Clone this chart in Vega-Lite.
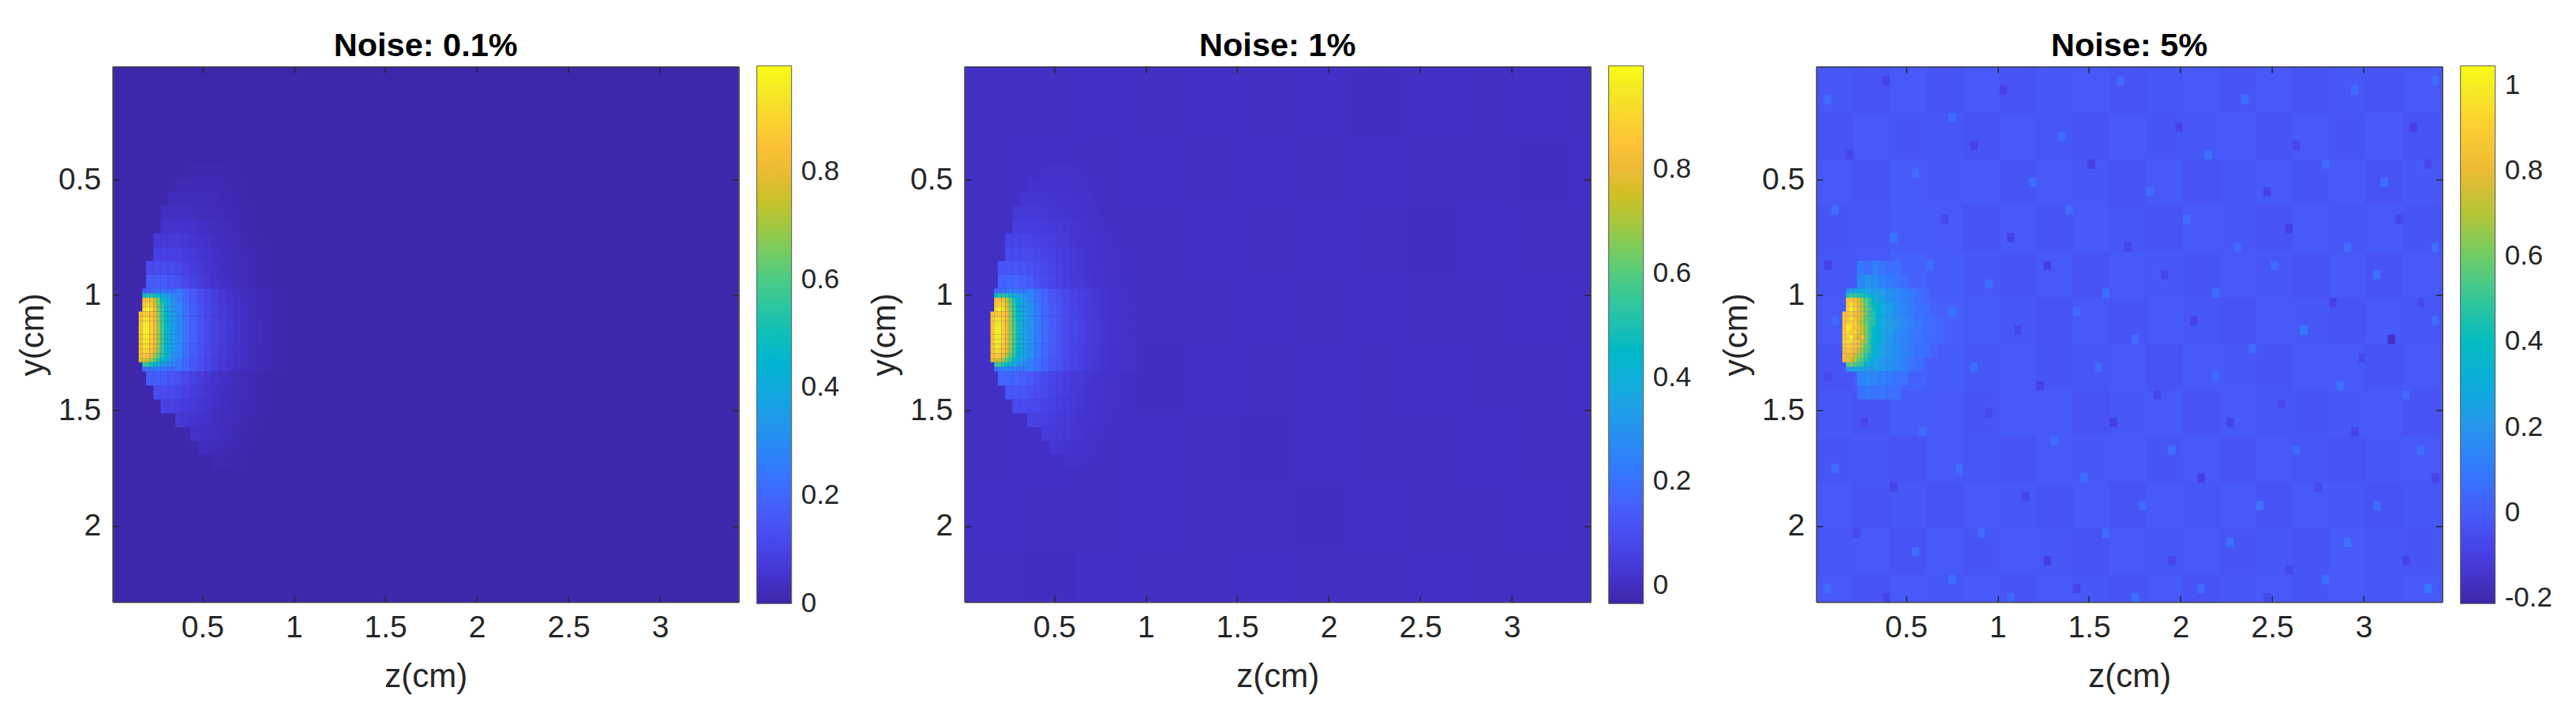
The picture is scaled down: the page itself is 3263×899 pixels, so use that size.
{"$schema":"https://vega.github.io/schema/vega-lite/v6.json","autosize":{"type":"none"},"padding":{"left":142.7,"top":84.3,"right":3120,"bottom":815},"background":"white","bounds":"flush","spacing":286,"config":{"view":{"stroke":null},"font":"Liberation Sans","axis":{"labelFont":"Liberation Sans","titleFont":"Liberation Sans","labelFontSize":39,"titleFontSize":42,"titleFontWeight":"normal","labelColor":"#262626","titleColor":"#262626","domainColor":"#404040","domainWidth":1.5,"tickColor":"#262626","tickWidth":1.5,"grid":false,"format":".1~f","labelFlush":false},"legend":{"labelFont":"Liberation Sans","labelFontSize":35,"labelColor":"#262626"},"title":{"font":"Liberation Sans","fontSize":41.5,"fontWeight":"bold","color":"#000000","anchor":"middle","offset":4}},"datasets":{"bg1":[{"z0":0.01,"z1":3.43,"y0":0.01,"y1":2.33,"v":0.004}],"bg2":[{"z0":0.01,"z1":3.43,"y0":0.01,"y1":2.33,"v":0.005}],"bg3":[{"z0":0.01,"z1":3.43,"y0":0.01,"y1":2.33,"v":-0.02}],
"spot":[{"z":0.18,"y":0.98,"v":0.17},{"z":0.2,"y":0.98,"v":0.19},{"z":0.22,"y":0.98,"v":0.2},{"z":0.24,"y":0.98,"v":0.22},{"z":0.26,"y":0.98,"v":0.23},{"z":0.28,"y":0.98,"v":0.23},{"z":0.3,"y":0.98,"v":0.22},{"z":0.32,"y":0.98,"v":0.22},{"z":0.34,"y":0.98,"v":0.21},
{"z":0.18,"y":1.0,"v":0.47},{"z":0.2,"y":1.0,"v":0.52},{"z":0.22,"y":1.0,"v":0.53},{"z":0.24,"y":1.0,"v":0.5},{"z":0.26,"y":1.0,"v":0.46},{"z":0.28,"y":1.0,"v":0.4},{"z":0.3,"y":1.0,"v":0.37},{"z":0.32,"y":1.0,"v":0.33},{"z":0.34,"y":1.0,"v":0.3},
{"z":0.18,"y":1.02,"v":0.83},{"z":0.2,"y":1.02,"v":0.84},{"z":0.22,"y":1.02,"v":0.81},{"z":0.24,"y":1.02,"v":0.72},{"z":0.26,"y":1.02,"v":0.6},{"z":0.28,"y":1.02,"v":0.49},{"z":0.3,"y":1.02,"v":0.42},{"z":0.32,"y":1.02,"v":0.37},{"z":0.34,"y":1.02,"v":0.33},
{"z":0.18,"y":1.04,"v":0.86},{"z":0.2,"y":1.04,"v":0.92},{"z":0.22,"y":1.04,"v":0.86},{"z":0.24,"y":1.04,"v":0.76},{"z":0.26,"y":1.04,"v":0.62},{"z":0.28,"y":1.04,"v":0.53},{"z":0.3,"y":1.04,"v":0.43},{"z":0.32,"y":1.04,"v":0.38},{"z":0.34,"y":1.04,"v":0.33},
{"z":0.18,"y":1.06,"v":0.93},{"z":0.2,"y":1.06,"v":0.98},{"z":0.22,"y":1.06,"v":0.93},{"z":0.24,"y":1.06,"v":0.8},{"z":0.26,"y":1.06,"v":0.64},{"z":0.28,"y":1.06,"v":0.55},{"z":0.3,"y":1.06,"v":0.45},{"z":0.32,"y":1.06,"v":0.38},{"z":0.34,"y":1.06,"v":0.34},
{"z":0.16,"y":1.08,"v":0.85},{"z":0.18,"y":1.08,"v":0.88},{"z":0.2,"y":1.08,"v":0.88},{"z":0.22,"y":1.08,"v":0.85},{"z":0.24,"y":1.08,"v":0.8},{"z":0.26,"y":1.08,"v":0.66},{"z":0.28,"y":1.08,"v":0.55},{"z":0.3,"y":1.08,"v":0.47},{"z":0.32,"y":1.08,"v":0.4},{"z":0.34,"y":1.08,"v":0.35},
{"z":0.16,"y":1.1,"v":0.85},{"z":0.18,"y":1.1,"v":0.93},{"z":0.2,"y":1.1,"v":0.93},{"z":0.22,"y":1.1,"v":0.87},{"z":0.24,"y":1.1,"v":0.8},{"z":0.26,"y":1.1,"v":0.67},{"z":0.28,"y":1.1,"v":0.56},{"z":0.3,"y":1.1,"v":0.47},{"z":0.32,"y":1.1,"v":0.4},{"z":0.34,"y":1.1,"v":0.35},
{"z":0.16,"y":1.12,"v":0.85},{"z":0.18,"y":1.12,"v":0.95},{"z":0.2,"y":1.12,"v":0.95},{"z":0.22,"y":1.12,"v":0.88},{"z":0.24,"y":1.12,"v":0.81},{"z":0.26,"y":1.12,"v":0.67},{"z":0.28,"y":1.12,"v":0.57},{"z":0.3,"y":1.12,"v":0.48},{"z":0.32,"y":1.12,"v":0.41},{"z":0.34,"y":1.12,"v":0.35},
{"z":0.16,"y":1.14,"v":0.85},{"z":0.18,"y":1.14,"v":0.96},{"z":0.2,"y":1.14,"v":0.96},{"z":0.22,"y":1.14,"v":0.88},{"z":0.24,"y":1.14,"v":0.81},{"z":0.26,"y":1.14,"v":0.68},{"z":0.28,"y":1.14,"v":0.57},{"z":0.3,"y":1.14,"v":0.48},{"z":0.32,"y":1.14,"v":0.41},{"z":0.34,"y":1.14,"v":0.36},
{"z":0.16,"y":1.16,"v":0.85},{"z":0.18,"y":1.16,"v":0.97},{"z":0.2,"y":1.16,"v":0.96},{"z":0.22,"y":1.16,"v":0.88},{"z":0.24,"y":1.16,"v":0.81},{"z":0.26,"y":1.16,"v":0.68},{"z":0.28,"y":1.16,"v":0.57},{"z":0.3,"y":1.16,"v":0.48},{"z":0.32,"y":1.16,"v":0.41},{"z":0.34,"y":1.16,"v":0.36},
{"z":0.16,"y":1.18,"v":0.85},{"z":0.18,"y":1.18,"v":0.97},{"z":0.2,"y":1.18,"v":0.96},{"z":0.22,"y":1.18,"v":0.88},{"z":0.24,"y":1.18,"v":0.81},{"z":0.26,"y":1.18,"v":0.68},{"z":0.28,"y":1.18,"v":0.57},{"z":0.3,"y":1.18,"v":0.48},{"z":0.32,"y":1.18,"v":0.41},{"z":0.34,"y":1.18,"v":0.36},
{"z":0.16,"y":1.2,"v":0.85},{"z":0.18,"y":1.2,"v":0.96},{"z":0.2,"y":1.2,"v":0.95},{"z":0.22,"y":1.2,"v":0.88},{"z":0.24,"y":1.2,"v":0.8},{"z":0.26,"y":1.2,"v":0.67},{"z":0.28,"y":1.2,"v":0.57},{"z":0.3,"y":1.2,"v":0.48},{"z":0.32,"y":1.2,"v":0.41},{"z":0.34,"y":1.2,"v":0.35},
{"z":0.16,"y":1.22,"v":0.85},{"z":0.18,"y":1.22,"v":0.95},{"z":0.2,"y":1.22,"v":0.94},{"z":0.22,"y":1.22,"v":0.87},{"z":0.24,"y":1.22,"v":0.79},{"z":0.26,"y":1.22,"v":0.67},{"z":0.28,"y":1.22,"v":0.56},{"z":0.3,"y":1.22,"v":0.47},{"z":0.32,"y":1.22,"v":0.4},{"z":0.34,"y":1.22,"v":0.35},
{"z":0.16,"y":1.24,"v":0.85},{"z":0.18,"y":1.24,"v":0.92},{"z":0.2,"y":1.24,"v":0.9},{"z":0.22,"y":1.24,"v":0.85},{"z":0.24,"y":1.24,"v":0.78},{"z":0.26,"y":1.24,"v":0.65},{"z":0.28,"y":1.24,"v":0.55},{"z":0.3,"y":1.24,"v":0.46},{"z":0.32,"y":1.24,"v":0.39},{"z":0.34,"y":1.24,"v":0.35},
{"z":0.16,"y":1.26,"v":0.83},{"z":0.18,"y":1.26,"v":0.87},{"z":0.2,"y":1.26,"v":0.85},{"z":0.22,"y":1.26,"v":0.8},{"z":0.24,"y":1.26,"v":0.7},{"z":0.26,"y":1.26,"v":0.6},{"z":0.28,"y":1.26,"v":0.52},{"z":0.3,"y":1.26,"v":0.44},{"z":0.32,"y":1.26,"v":0.38},{"z":0.34,"y":1.26,"v":0.33},
{"z":0.16,"y":1.28,"v":0.76},{"z":0.18,"y":1.28,"v":0.77},{"z":0.2,"y":1.28,"v":0.75},{"z":0.22,"y":1.28,"v":0.68},{"z":0.24,"y":1.28,"v":0.6},{"z":0.26,"y":1.28,"v":0.52},{"z":0.28,"y":1.28,"v":0.46},{"z":0.3,"y":1.28,"v":0.4},{"z":0.32,"y":1.28,"v":0.35},{"z":0.34,"y":1.28,"v":0.31},
{"z":0.18,"y":1.3,"v":0.55},{"z":0.2,"y":1.3,"v":0.56},{"z":0.22,"y":1.3,"v":0.5},{"z":0.24,"y":1.3,"v":0.46},{"z":0.26,"y":1.3,"v":0.4},{"z":0.28,"y":1.3,"v":0.36},{"z":0.3,"y":1.3,"v":0.33},{"z":0.32,"y":1.3,"v":0.3},{"z":0.34,"y":1.3,"v":0.27},
{"z":0.18,"y":1.32,"v":0.2},{"z":0.2,"y":1.32,"v":0.24},{"z":0.22,"y":1.32,"v":0.25},{"z":0.24,"y":1.32,"v":0.26},{"z":0.26,"y":1.32,"v":0.25},{"z":0.28,"y":1.32,"v":0.24},{"z":0.3,"y":1.32,"v":0.23},{"z":0.32,"y":1.32,"v":0.22},{"z":0.34,"y":1.32,"v":0.21}],
"glow":[{"z":0.45,"y":0.46,"v":0.012},{"z":0.49,"y":0.46,"v":0.012},{"z":0.53,"y":0.46,"v":0.012},{"z":0.57,"y":0.46,"v":0.012},{"z":0.61,"y":0.46,"v":0.011},{"z":0.65,"y":0.46,"v":0.009},
{"z":0.37,"y":0.52,"v":0.018},{"z":0.41,"y":0.52,"v":0.018},{"z":0.45,"y":0.52,"v":0.018},{"z":0.49,"y":0.52,"v":0.018},{"z":0.53,"y":0.52,"v":0.017},{"z":0.57,"y":0.52,"v":0.016},{"z":0.61,"y":0.52,"v":0.014},{"z":0.65,"y":0.52,"v":0.012},{"z":0.69,"y":0.52,"v":0.009},
{"z":0.33,"y":0.58,"v":0.026},{"z":0.37,"y":0.58,"v":0.026},{"z":0.41,"y":0.58,"v":0.026},{"z":0.45,"y":0.58,"v":0.026},{"z":0.49,"y":0.58,"v":0.024},{"z":0.53,"y":0.58,"v":0.022},{"z":0.57,"y":0.58,"v":0.02},{"z":0.61,"y":0.58,"v":0.017},{"z":0.65,"y":0.58,"v":0.014},{"z":0.69,"y":0.58,"v":0.011},
{"z":0.29,"y":0.64,"v":0.036},{"z":0.33,"y":0.64,"v":0.038},{"z":0.37,"y":0.64,"v":0.038},{"z":0.41,"y":0.64,"v":0.036},{"z":0.45,"y":0.64,"v":0.034},{"z":0.49,"y":0.64,"v":0.03},{"z":0.53,"y":0.64,"v":0.027},{"z":0.57,"y":0.64,"v":0.024},{"z":0.61,"y":0.64,"v":0.02},{"z":0.65,"y":0.64,"v":0.017},{"z":0.69,"y":0.64,"v":0.013},{"z":0.73,"y":0.64,"v":0.01},
{"z":0.29,"y":0.7,"v":0.05},{"z":0.33,"y":0.7,"v":0.052},{"z":0.37,"y":0.7,"v":0.052},{"z":0.41,"y":0.7,"v":0.05},{"z":0.45,"y":0.7,"v":0.046},{"z":0.49,"y":0.7,"v":0.04},{"z":0.53,"y":0.7,"v":0.035},{"z":0.57,"y":0.7,"v":0.03},{"z":0.61,"y":0.7,"v":0.026},{"z":0.65,"y":0.7,"v":0.021},{"z":0.69,"y":0.7,"v":0.017},{"z":0.73,"y":0.7,"v":0.013},{"z":0.77,"y":0.7,"v":0.009},
{"z":0.25,"y":0.76,"v":0.07},{"z":0.29,"y":0.76,"v":0.072},{"z":0.33,"y":0.76,"v":0.072},{"z":0.37,"y":0.76,"v":0.07},{"z":0.41,"y":0.76,"v":0.065},{"z":0.45,"y":0.76,"v":0.058},{"z":0.49,"y":0.76,"v":0.05},{"z":0.53,"y":0.76,"v":0.043},{"z":0.57,"y":0.76,"v":0.037},{"z":0.61,"y":0.76,"v":0.03},{"z":0.65,"y":0.76,"v":0.025},{"z":0.69,"y":0.76,"v":0.02},{"z":0.73,"y":0.76,"v":0.016},{"z":0.77,"y":0.76,"v":0.012},{"z":0.81,"y":0.76,"v":0.008},
{"z":0.25,"y":0.82,"v":0.09},{"z":0.29,"y":0.82,"v":0.095},{"z":0.33,"y":0.82,"v":0.093},{"z":0.37,"y":0.82,"v":0.088},{"z":0.41,"y":0.82,"v":0.08},{"z":0.45,"y":0.82,"v":0.07},{"z":0.49,"y":0.82,"v":0.06},{"z":0.53,"y":0.82,"v":0.05},{"z":0.57,"y":0.82,"v":0.042},{"z":0.61,"y":0.82,"v":0.034},{"z":0.65,"y":0.82,"v":0.028},{"z":0.69,"y":0.82,"v":0.022},{"z":0.73,"y":0.82,"v":0.018},{"z":0.77,"y":0.82,"v":0.014},{"z":0.81,"y":0.82,"v":0.01},{"z":0.85,"y":0.82,"v":0.008},
{"z":0.21,"y":0.88,"v":0.115},{"z":0.25,"y":0.88,"v":0.125},{"z":0.29,"y":0.88,"v":0.125},{"z":0.33,"y":0.88,"v":0.118},{"z":0.37,"y":0.88,"v":0.107},{"z":0.41,"y":0.88,"v":0.095},{"z":0.45,"y":0.88,"v":0.082},{"z":0.49,"y":0.88,"v":0.068},{"z":0.53,"y":0.88,"v":0.056},{"z":0.57,"y":0.88,"v":0.046},{"z":0.61,"y":0.88,"v":0.038},{"z":0.65,"y":0.88,"v":0.03},{"z":0.69,"y":0.88,"v":0.024},{"z":0.73,"y":0.88,"v":0.02},{"z":0.77,"y":0.88,"v":0.015},{"z":0.81,"y":0.88,"v":0.011},{"z":0.85,"y":0.88,"v":0.008},
{"z":0.21,"y":0.94,"v":0.16},{"z":0.25,"y":0.94,"v":0.17},{"z":0.29,"y":0.94,"v":0.165},{"z":0.33,"y":0.94,"v":0.15},{"z":0.37,"y":0.94,"v":0.13},{"z":0.41,"y":0.94,"v":0.11},{"z":0.45,"y":0.94,"v":0.093},{"z":0.49,"y":0.94,"v":0.076},{"z":0.53,"y":0.94,"v":0.062},{"z":0.57,"y":0.94,"v":0.05},{"z":0.61,"y":0.94,"v":0.041},{"z":0.65,"y":0.94,"v":0.033},{"z":0.69,"y":0.94,"v":0.026},{"z":0.73,"y":0.94,"v":0.021},{"z":0.77,"y":0.94,"v":0.016},{"z":0.81,"y":0.94,"v":0.012},{"z":0.85,"y":0.94,"v":0.009},
{"z":0.37,"y":1.0,"v":0.25},{"z":0.41,"y":1.0,"v":0.2},{"z":0.45,"y":1.0,"v":0.16},{"z":0.49,"y":1.0,"v":0.125},{"z":0.53,"y":1.0,"v":0.1},{"z":0.57,"y":1.0,"v":0.08},{"z":0.61,"y":1.0,"v":0.065},{"z":0.65,"y":1.0,"v":0.052},{"z":0.69,"y":1.0,"v":0.042},{"z":0.73,"y":1.0,"v":0.034},{"z":0.77,"y":1.0,"v":0.025},{"z":0.81,"y":1.0,"v":0.018},{"z":0.85,"y":1.0,"v":0.014},{"z":0.89,"y":1.0,"v":0.011},{"z":0.93,"y":1.0,"v":0.008},
{"z":0.37,"y":1.06,"v":0.29},{"z":0.41,"y":1.06,"v":0.22},{"z":0.45,"y":1.06,"v":0.17},{"z":0.49,"y":1.06,"v":0.135},{"z":0.53,"y":1.06,"v":0.11},{"z":0.57,"y":1.06,"v":0.09},{"z":0.61,"y":1.06,"v":0.07},{"z":0.65,"y":1.06,"v":0.056},{"z":0.69,"y":1.06,"v":0.045},{"z":0.73,"y":1.06,"v":0.036},{"z":0.77,"y":1.06,"v":0.027},{"z":0.81,"y":1.06,"v":0.019},{"z":0.85,"y":1.06,"v":0.015},{"z":0.89,"y":1.06,"v":0.012},{"z":0.93,"y":1.06,"v":0.009},
{"z":0.37,"y":1.12,"v":0.3},{"z":0.41,"y":1.12,"v":0.23},{"z":0.45,"y":1.12,"v":0.18},{"z":0.49,"y":1.12,"v":0.14},{"z":0.53,"y":1.12,"v":0.115},{"z":0.57,"y":1.12,"v":0.09},{"z":0.61,"y":1.12,"v":0.075},{"z":0.65,"y":1.12,"v":0.06},{"z":0.69,"y":1.12,"v":0.048},{"z":0.73,"y":1.12,"v":0.038},{"z":0.77,"y":1.12,"v":0.028},{"z":0.81,"y":1.12,"v":0.02},{"z":0.85,"y":1.12,"v":0.016},{"z":0.89,"y":1.12,"v":0.012},{"z":0.93,"y":1.12,"v":0.009},
{"z":0.37,"y":1.18,"v":0.3},{"z":0.41,"y":1.18,"v":0.23},{"z":0.45,"y":1.18,"v":0.18},{"z":0.49,"y":1.18,"v":0.14},{"z":0.53,"y":1.18,"v":0.115},{"z":0.57,"y":1.18,"v":0.09},{"z":0.61,"y":1.18,"v":0.075},{"z":0.65,"y":1.18,"v":0.06},{"z":0.69,"y":1.18,"v":0.048},{"z":0.73,"y":1.18,"v":0.038},{"z":0.77,"y":1.18,"v":0.028},{"z":0.81,"y":1.18,"v":0.02},{"z":0.85,"y":1.18,"v":0.016},{"z":0.89,"y":1.18,"v":0.012},{"z":0.93,"y":1.18,"v":0.009},
{"z":0.37,"y":1.24,"v":0.29},{"z":0.41,"y":1.24,"v":0.22},{"z":0.45,"y":1.24,"v":0.17},{"z":0.49,"y":1.24,"v":0.135},{"z":0.53,"y":1.24,"v":0.11},{"z":0.57,"y":1.24,"v":0.09},{"z":0.61,"y":1.24,"v":0.07},{"z":0.65,"y":1.24,"v":0.056},{"z":0.69,"y":1.24,"v":0.045},{"z":0.73,"y":1.24,"v":0.036},{"z":0.77,"y":1.24,"v":0.027},{"z":0.81,"y":1.24,"v":0.019},{"z":0.85,"y":1.24,"v":0.015},{"z":0.89,"y":1.24,"v":0.012},{"z":0.93,"y":1.24,"v":0.009},
{"z":0.37,"y":1.3,"v":0.24},{"z":0.41,"y":1.3,"v":0.195},{"z":0.45,"y":1.3,"v":0.155},{"z":0.49,"y":1.3,"v":0.125},{"z":0.53,"y":1.3,"v":0.1},{"z":0.57,"y":1.3,"v":0.08},{"z":0.61,"y":1.3,"v":0.065},{"z":0.65,"y":1.3,"v":0.052},{"z":0.69,"y":1.3,"v":0.042},{"z":0.73,"y":1.3,"v":0.034},{"z":0.77,"y":1.3,"v":0.025},{"z":0.81,"y":1.3,"v":0.018},{"z":0.85,"y":1.3,"v":0.014},{"z":0.89,"y":1.3,"v":0.011},{"z":0.93,"y":1.3,"v":0.008},
{"z":0.21,"y":1.36,"v":0.17},{"z":0.25,"y":1.36,"v":0.17},{"z":0.29,"y":1.36,"v":0.165},{"z":0.33,"y":1.36,"v":0.15},{"z":0.37,"y":1.36,"v":0.13},{"z":0.41,"y":1.36,"v":0.11},{"z":0.45,"y":1.36,"v":0.093},{"z":0.49,"y":1.36,"v":0.076},{"z":0.53,"y":1.36,"v":0.062},{"z":0.57,"y":1.36,"v":0.05},{"z":0.61,"y":1.36,"v":0.041},{"z":0.65,"y":1.36,"v":0.033},{"z":0.69,"y":1.36,"v":0.026},{"z":0.73,"y":1.36,"v":0.021},{"z":0.77,"y":1.36,"v":0.016},{"z":0.81,"y":1.36,"v":0.012},{"z":0.85,"y":1.36,"v":0.009},
{"z":0.25,"y":1.42,"v":0.125},{"z":0.29,"y":1.42,"v":0.125},{"z":0.33,"y":1.42,"v":0.118},{"z":0.37,"y":1.42,"v":0.107},{"z":0.41,"y":1.42,"v":0.095},{"z":0.45,"y":1.42,"v":0.082},{"z":0.49,"y":1.42,"v":0.068},{"z":0.53,"y":1.42,"v":0.056},{"z":0.57,"y":1.42,"v":0.046},{"z":0.61,"y":1.42,"v":0.038},{"z":0.65,"y":1.42,"v":0.03},{"z":0.69,"y":1.42,"v":0.024},{"z":0.73,"y":1.42,"v":0.02},{"z":0.77,"y":1.42,"v":0.015},{"z":0.81,"y":1.42,"v":0.011},{"z":0.85,"y":1.42,"v":0.008},
{"z":0.29,"y":1.48,"v":0.09},{"z":0.33,"y":1.48,"v":0.09},{"z":0.37,"y":1.48,"v":0.085},{"z":0.41,"y":1.48,"v":0.08},{"z":0.45,"y":1.48,"v":0.07},{"z":0.49,"y":1.48,"v":0.06},{"z":0.53,"y":1.48,"v":0.05},{"z":0.57,"y":1.48,"v":0.042},{"z":0.61,"y":1.48,"v":0.034},{"z":0.65,"y":1.48,"v":0.028},{"z":0.69,"y":1.48,"v":0.022},{"z":0.73,"y":1.48,"v":0.018},{"z":0.77,"y":1.48,"v":0.014},{"z":0.81,"y":1.48,"v":0.01},{"z":0.85,"y":1.48,"v":0.008},
{"z":0.37,"y":1.54,"v":0.065},{"z":0.41,"y":1.54,"v":0.062},{"z":0.45,"y":1.54,"v":0.056},{"z":0.49,"y":1.54,"v":0.05},{"z":0.53,"y":1.54,"v":0.043},{"z":0.57,"y":1.54,"v":0.037},{"z":0.61,"y":1.54,"v":0.03},{"z":0.65,"y":1.54,"v":0.025},{"z":0.69,"y":1.54,"v":0.02},{"z":0.73,"y":1.54,"v":0.016},{"z":0.77,"y":1.54,"v":0.012},{"z":0.81,"y":1.54,"v":0.008},
{"z":0.45,"y":1.6,"v":0.045},{"z":0.49,"y":1.6,"v":0.042},{"z":0.53,"y":1.6,"v":0.037},{"z":0.57,"y":1.6,"v":0.033},{"z":0.61,"y":1.6,"v":0.028},{"z":0.65,"y":1.6,"v":0.023},{"z":0.69,"y":1.6,"v":0.018},{"z":0.73,"y":1.6,"v":0.013},{"z":0.77,"y":1.6,"v":0.009},
{"z":0.49,"y":1.66,"v":0.028},{"z":0.53,"y":1.66,"v":0.026},{"z":0.57,"y":1.66,"v":0.023},{"z":0.61,"y":1.66,"v":0.019},{"z":0.65,"y":1.66,"v":0.015},{"z":0.69,"y":1.66,"v":0.012},{"z":0.73,"y":1.66,"v":0.009},
{"z":0.57,"y":1.72,"v":0.015},{"z":0.61,"y":1.72,"v":0.013},{"z":0.65,"y":1.72,"v":0.011},{"z":0.69,"y":1.72,"v":0.009}],
"n2":[{"z":0.16,"y":0.16,"v":0.006},{"z":0.46,"y":0.16,"v":0.003},{"z":0.76,"y":0.16,"v":0.008},{"z":1.06,"y":0.16,"v":0.004},{"z":1.36,"y":0.16,"v":0.009},{"z":1.66,"y":0.16,"v":0.003},{"z":1.96,"y":0.16,"v":0.007},{"z":2.26,"y":0.16,"v":0.002},{"z":2.56,"y":0.16,"v":0.007},{"z":2.86,"y":0.16,"v":0.004},{"z":3.16,"y":0.16,"v":0.008},{"z":3.46,"y":0.16,"v":0.005},
{"z":0.16,"y":0.46,"v":0.003},{"z":0.46,"y":0.46,"v":0.007},{"z":0.76,"y":0.46,"v":0.004},{"z":1.06,"y":0.46,"v":0.008},{"z":1.36,"y":0.46,"v":0.003},{"z":1.66,"y":0.46,"v":0.007},{"z":1.96,"y":0.46,"v":0.004},{"z":2.26,"y":0.46,"v":0.009},{"z":2.56,"y":0.46,"v":0.003},{"z":2.86,"y":0.46,"v":0.006},{"z":3.16,"y":0.46,"v":0.002},{"z":3.46,"y":0.46,"v":0.007},
{"z":0.16,"y":0.76,"v":0.004},{"z":0.46,"y":0.76,"v":0.008},{"z":0.76,"y":0.76,"v":0.006},{"z":1.06,"y":0.76,"v":0.003},{"z":1.36,"y":0.76,"v":0.007},{"z":1.66,"y":0.76,"v":0.003},{"z":1.96,"y":0.76,"v":0.008},{"z":2.26,"y":0.76,"v":0.005},{"z":2.56,"y":0.76,"v":0.002},{"z":2.86,"y":0.76,"v":0.007},{"z":3.16,"y":0.76,"v":0.004},{"z":3.46,"y":0.76,"v":0.006},
{"z":0.16,"y":1.06,"v":0.003},{"z":0.46,"y":1.06,"v":0.006},{"z":0.76,"y":1.06,"v":0.009},{"z":1.06,"y":1.06,"v":0.005},{"z":1.36,"y":1.06,"v":0.004},{"z":1.66,"y":1.06,"v":0.008},{"z":1.96,"y":1.06,"v":0.003},{"z":2.26,"y":1.06,"v":0.007},{"z":2.56,"y":1.06,"v":0.006},{"z":2.86,"y":1.06,"v":0.003},{"z":3.16,"y":1.06,"v":0.008},{"z":3.46,"y":1.06,"v":0.004},
{"z":0.16,"y":1.36,"v":0.006},{"z":0.46,"y":1.36,"v":0.004},{"z":0.76,"y":1.36,"v":0.007},{"z":1.06,"y":1.36,"v":0.002},{"z":1.36,"y":1.36,"v":0.008},{"z":1.66,"y":1.36,"v":0.005},{"z":1.96,"y":1.36,"v":0.007},{"z":2.26,"y":1.36,"v":0.003},{"z":2.56,"y":1.36,"v":0.008},{"z":2.86,"y":1.36,"v":0.006},{"z":3.16,"y":1.36,"v":0.003},{"z":3.46,"y":1.36,"v":0.007},
{"z":0.16,"y":1.66,"v":0.004},{"z":0.46,"y":1.66,"v":0.007},{"z":0.76,"y":1.66,"v":0.003},{"z":1.06,"y":1.66,"v":0.007},{"z":1.36,"y":1.66,"v":0.005},{"z":1.66,"y":1.66,"v":0.002},{"z":1.96,"y":1.66,"v":0.008},{"z":2.26,"y":1.66,"v":0.004},{"z":2.56,"y":1.66,"v":0.006},{"z":2.86,"y":1.66,"v":0.008},{"z":3.16,"y":1.66,"v":0.004},{"z":3.46,"y":1.66,"v":0.003},
{"z":0.16,"y":1.96,"v":0.007},{"z":0.46,"y":1.96,"v":0.004},{"z":0.76,"y":1.96,"v":0.006},{"z":1.06,"y":1.96,"v":0.008},{"z":1.36,"y":1.96,"v":0.003},{"z":1.66,"y":1.96,"v":0.006},{"z":1.96,"y":1.96,"v":0.002},{"z":2.26,"y":1.96,"v":0.007},{"z":2.56,"y":1.96,"v":0.004},{"z":2.86,"y":1.96,"v":0.003},{"z":3.16,"y":1.96,"v":0.007},{"z":3.46,"y":1.96,"v":0.006},
{"z":0.16,"y":2.26,"v":0.005},{"z":0.46,"y":2.26,"v":0.002},{"z":0.76,"y":2.26,"v":0.008},{"z":1.06,"y":2.26,"v":0.004},{"z":1.36,"y":2.26,"v":0.006},{"z":1.66,"y":2.26,"v":0.009},{"z":1.96,"y":2.26,"v":0.005},{"z":2.26,"y":2.26,"v":0.003},{"z":2.56,"y":2.26,"v":0.007},{"z":2.86,"y":2.26,"v":0.004},{"z":3.16,"y":2.26,"v":0.006},{"z":3.46,"y":2.26,"v":0.003}],
"n3":[{"z":0.11,"y":0.11,"v":-0.015},{"z":0.31,"y":0.11,"v":-0.03},{"z":0.51,"y":0.11,"v":-0.01},{"z":0.71,"y":0.11,"v":-0.025},{"z":0.91,"y":0.11,"v":-0.01},{"z":1.11,"y":0.11,"v":-0.03},{"z":1.31,"y":0.11,"v":-0.015},{"z":1.51,"y":0.11,"v":-0.01},{"z":1.71,"y":0.11,"v":-0.03},{"z":1.91,"y":0.11,"v":-0.02},{"z":2.11,"y":0.11,"v":-0.01},{"z":2.31,"y":0.11,"v":-0.025},{"z":2.51,"y":0.11,"v":-0.01},{"z":2.71,"y":0.11,"v":-0.03},{"z":2.91,"y":0.11,"v":-0.015},{"z":3.11,"y":0.11,"v":-0.025},{"z":3.31,"y":0.11,"v":-0.01},{"z":3.51,"y":0.11,"v":-0.02},
{"z":0.11,"y":0.31,"v":-0.03},{"z":0.31,"y":0.31,"v":-0.01},{"z":0.51,"y":0.31,"v":-0.025},{"z":0.71,"y":0.31,"v":-0.015},{"z":0.91,"y":0.31,"v":-0.03},{"z":1.11,"y":0.31,"v":-0.01},{"z":1.31,"y":0.31,"v":-0.02},{"z":1.51,"y":0.31,"v":-0.03},{"z":1.71,"y":0.31,"v":-0.01},{"z":1.91,"y":0.31,"v":-0.025},{"z":2.11,"y":0.31,"v":-0.015},{"z":2.31,"y":0.31,"v":-0.01},{"z":2.51,"y":0.31,"v":-0.03},{"z":2.71,"y":0.31,"v":-0.01},{"z":2.91,"y":0.31,"v":-0.025},{"z":3.11,"y":0.31,"v":-0.01},{"z":3.31,"y":0.31,"v":-0.03},{"z":3.51,"y":0.31,"v":-0.015},
{"z":0.11,"y":0.51,"v":-0.01},{"z":0.31,"y":0.51,"v":-0.025},{"z":0.51,"y":0.51,"v":-0.005},{"z":0.71,"y":0.51,"v":-0.015},{"z":0.91,"y":0.51,"v":-0.01},{"z":1.11,"y":0.51,"v":-0.025},{"z":1.31,"y":0.51,"v":-0.01},{"z":1.51,"y":0.51,"v":-0.015},{"z":1.71,"y":0.51,"v":-0.03},{"z":1.91,"y":0.51,"v":-0.01},{"z":2.11,"y":0.51,"v":-0.03},{"z":2.31,"y":0.51,"v":-0.02},{"z":2.51,"y":0.51,"v":-0.01},{"z":2.71,"y":0.51,"v":-0.025},{"z":2.91,"y":0.51,"v":-0.01},{"z":3.11,"y":0.51,"v":-0.03},{"z":3.31,"y":0.51,"v":-0.015},{"z":3.51,"y":0.51,"v":-0.01},
{"z":0.11,"y":0.71,"v":-0.025},{"z":0.31,"y":0.71,"v":-0.015},{"z":0.51,"y":0.71,"v":0.0},{"z":0.71,"y":0.71,"v":-0.01},{"z":0.91,"y":0.71,"v":-0.03},{"z":1.11,"y":0.71,"v":-0.01},{"z":1.31,"y":0.71,"v":-0.025},{"z":1.51,"y":0.71,"v":-0.01},{"z":1.71,"y":0.71,"v":-0.02},{"z":1.91,"y":0.71,"v":-0.03},{"z":2.11,"y":0.71,"v":-0.01},{"z":2.31,"y":0.71,"v":-0.015},{"z":2.51,"y":0.71,"v":-0.03},{"z":2.71,"y":0.71,"v":-0.01},{"z":2.91,"y":0.71,"v":-0.02},{"z":3.11,"y":0.71,"v":-0.01},{"z":3.31,"y":0.71,"v":-0.025},{"z":3.51,"y":0.71,"v":-0.03},
{"z":0.11,"y":0.91,"v":-0.02},{"z":0.31,"y":0.91,"v":-0.01},{"z":0.51,"y":0.91,"v":0.02},{"z":0.71,"y":0.91,"v":0.0},{"z":0.91,"y":0.91,"v":-0.015},{"z":1.11,"y":0.91,"v":-0.025},{"z":1.31,"y":0.91,"v":-0.01},{"z":1.51,"y":0.91,"v":-0.03},{"z":1.71,"y":0.91,"v":-0.01},{"z":1.91,"y":0.91,"v":-0.015},{"z":2.11,"y":0.91,"v":-0.025},{"z":2.31,"y":0.91,"v":-0.01},{"z":2.51,"y":0.91,"v":-0.02},{"z":2.71,"y":0.91,"v":-0.03},{"z":2.91,"y":0.91,"v":-0.01},{"z":3.11,"y":0.91,"v":-0.03},{"z":3.31,"y":0.91,"v":-0.01},{"z":3.51,"y":0.91,"v":-0.015},
{"z":0.11,"y":1.11,"v":-0.01},{"z":0.31,"y":1.11,"v":-0.005},{"z":0.51,"y":1.11,"v":0.03},{"z":0.71,"y":1.11,"v":0.01},{"z":0.91,"y":1.11,"v":-0.005},{"z":1.11,"y":1.11,"v":-0.015},{"z":1.31,"y":1.11,"v":-0.03},{"z":1.51,"y":1.11,"v":-0.01},{"z":1.71,"y":1.11,"v":-0.025},{"z":1.91,"y":1.11,"v":-0.01},{"z":2.11,"y":1.11,"v":-0.02},{"z":2.31,"y":1.11,"v":-0.03},{"z":2.51,"y":1.11,"v":-0.01},{"z":2.71,"y":1.11,"v":-0.015},{"z":2.91,"y":1.11,"v":-0.03},{"z":3.11,"y":1.11,"v":-0.01},{"z":3.31,"y":1.11,"v":-0.02},{"z":3.51,"y":1.11,"v":-0.025},
{"z":0.11,"y":1.31,"v":-0.03},{"z":0.31,"y":1.31,"v":-0.01},{"z":0.51,"y":1.31,"v":0.02},{"z":0.71,"y":1.31,"v":0.0},{"z":0.91,"y":1.31,"v":-0.015},{"z":1.11,"y":1.31,"v":-0.01},{"z":1.31,"y":1.31,"v":-0.025},{"z":1.51,"y":1.31,"v":-0.02},{"z":1.71,"y":1.31,"v":-0.01},{"z":1.91,"y":1.31,"v":-0.03},{"z":2.11,"y":1.31,"v":-0.01},{"z":2.31,"y":1.31,"v":-0.015},{"z":2.51,"y":1.31,"v":-0.025},{"z":2.71,"y":1.31,"v":-0.01},{"z":2.91,"y":1.31,"v":-0.01},{"z":3.11,"y":1.31,"v":-0.025},{"z":3.31,"y":1.31,"v":-0.01},{"z":3.51,"y":1.31,"v":-0.02},
{"z":0.11,"y":1.51,"v":-0.015},{"z":0.31,"y":1.51,"v":-0.03},{"z":0.51,"y":1.51,"v":0.0},{"z":0.71,"y":1.51,"v":-0.01},{"z":0.91,"y":1.51,"v":-0.025},{"z":1.11,"y":1.51,"v":-0.01},{"z":1.31,"y":1.51,"v":-0.01},{"z":1.51,"y":1.51,"v":-0.03},{"z":1.71,"y":1.51,"v":-0.015},{"z":1.91,"y":1.51,"v":-0.01},{"z":2.11,"y":1.51,"v":-0.03},{"z":2.31,"y":1.51,"v":-0.01},{"z":2.51,"y":1.51,"v":-0.02},{"z":2.71,"y":1.51,"v":-0.025},{"z":2.91,"y":1.51,"v":-0.015},{"z":3.11,"y":1.51,"v":-0.01},{"z":3.31,"y":1.51,"v":-0.03},{"z":3.51,"y":1.51,"v":-0.01},
{"z":0.11,"y":1.71,"v":-0.025},{"z":0.31,"y":1.71,"v":-0.015},{"z":0.51,"y":1.71,"v":-0.03},{"z":0.71,"y":1.71,"v":-0.01},{"z":0.91,"y":1.71,"v":-0.02},{"z":1.11,"y":1.71,"v":-0.03},{"z":1.31,"y":1.71,"v":-0.01},{"z":1.51,"y":1.71,"v":-0.015},{"z":1.71,"y":1.71,"v":-0.01},{"z":1.91,"y":1.71,"v":-0.025},{"z":2.11,"y":1.71,"v":-0.01},{"z":2.31,"y":1.71,"v":-0.03},{"z":2.51,"y":1.71,"v":-0.01},{"z":2.71,"y":1.71,"v":-0.02},{"z":2.91,"y":1.71,"v":-0.03},{"z":3.11,"y":1.71,"v":-0.015},{"z":3.31,"y":1.71,"v":-0.01},{"z":3.51,"y":1.71,"v":-0.025},
{"z":0.11,"y":1.91,"v":-0.01},{"z":0.31,"y":1.91,"v":-0.025},{"z":0.51,"y":1.91,"v":-0.015},{"z":0.71,"y":1.91,"v":-0.03},{"z":0.91,"y":1.91,"v":-0.01},{"z":1.11,"y":1.91,"v":-0.015},{"z":1.31,"y":1.91,"v":-0.025},{"z":1.51,"y":1.91,"v":-0.01},{"z":1.71,"y":1.91,"v":-0.03},{"z":1.91,"y":1.91,"v":-0.01},{"z":2.11,"y":1.91,"v":-0.02},{"z":2.31,"y":1.91,"v":-0.01},{"z":2.51,"y":1.91,"v":-0.03},{"z":2.71,"y":1.91,"v":-0.01},{"z":2.91,"y":1.91,"v":-0.015},{"z":3.11,"y":1.91,"v":-0.03},{"z":3.31,"y":1.91,"v":-0.02},{"z":3.51,"y":1.91,"v":-0.01},
{"z":0.11,"y":2.11,"v":-0.02},{"z":0.31,"y":2.11,"v":-0.01},{"z":0.51,"y":2.11,"v":-0.03},{"z":0.71,"y":2.11,"v":-0.01},{"z":0.91,"y":2.11,"v":-0.025},{"z":1.11,"y":2.11,"v":-0.01},{"z":1.31,"y":2.11,"v":-0.015},{"z":1.51,"y":2.11,"v":-0.03},{"z":1.71,"y":2.11,"v":-0.01},{"z":1.91,"y":2.11,"v":-0.02},{"z":2.11,"y":2.11,"v":-0.01},{"z":2.31,"y":2.11,"v":-0.025},{"z":2.51,"y":2.11,"v":-0.015},{"z":2.71,"y":2.11,"v":-0.03},{"z":2.91,"y":2.11,"v":-0.01},{"z":3.11,"y":2.11,"v":-0.02},{"z":3.31,"y":2.11,"v":-0.025},{"z":3.51,"y":2.11,"v":-0.01},
{"z":0.11,"y":2.31,"v":-0.01},{"z":0.31,"y":2.31,"v":-0.025},{"z":0.51,"y":2.31,"v":-0.01},{"z":0.71,"y":2.31,"v":-0.02},{"z":0.91,"y":2.31,"v":-0.01},{"z":1.11,"y":2.31,"v":-0.03},{"z":1.31,"y":2.31,"v":-0.01},{"z":1.51,"y":2.31,"v":-0.015},{"z":1.71,"y":2.31,"v":-0.025},{"z":1.91,"y":2.31,"v":-0.01},{"z":2.11,"y":2.31,"v":-0.03},{"z":2.31,"y":2.31,"v":-0.015},{"z":2.51,"y":2.31,"v":-0.01},{"z":2.71,"y":2.31,"v":-0.025},{"z":2.91,"y":2.31,"v":-0.01},{"z":3.11,"y":2.31,"v":-0.02},{"z":3.31,"y":2.31,"v":-0.01},{"z":3.51,"y":2.31,"v":-0.01}],
"s3":[{"z":0.07,"y":0.15,"v":0.05},{"z":0.39,"y":0.07,"v":-0.09},{"z":0.75,"y":0.23,"v":0.06},{"z":1.03,"y":0.11,"v":-0.1},{"z":1.35,"y":0.31,"v":0.07},{"z":1.67,"y":0.07,"v":0.05},{"z":1.99,"y":0.27,"v":-0.09},{"z":2.35,"y":0.15,"v":0.06},{"z":2.63,"y":0.35,"v":-0.08},{"z":2.95,"y":0.11,"v":0.07},{"z":3.27,"y":0.27,"v":-0.1},{"z":3.39,"y":0.07,"v":0.05},
{"z":0.19,"y":0.39,"v":-0.08},{"z":0.55,"y":0.47,"v":0.06},{"z":0.87,"y":0.35,"v":-0.09},{"z":1.19,"y":0.51,"v":0.07},{"z":1.51,"y":0.43,"v":-0.1},{"z":1.83,"y":0.55,"v":0.06},{"z":2.15,"y":0.39,"v":0.08},{"z":2.47,"y":0.55,"v":-0.09},{"z":2.79,"y":0.43,"v":0.05},{"z":3.11,"y":0.51,"v":0.07},{"z":3.35,"y":0.43,"v":-0.08},
{"z":0.11,"y":0.63,"v":0.05},{"z":0.43,"y":0.75,"v":0.09},{"z":0.71,"y":0.67,"v":-0.07},{"z":1.07,"y":0.75,"v":-0.09},{"z":1.39,"y":0.63,"v":0.06},{"z":1.71,"y":0.79,"v":-0.08},{"z":2.03,"y":0.67,"v":0.07},{"z":2.31,"y":0.79,"v":0.05},{"z":2.59,"y":0.71,"v":-0.1},{"z":2.91,"y":0.79,"v":0.06},{"z":3.19,"y":0.67,"v":-0.07},{"z":3.39,"y":0.79,"v":0.07},
{"z":0.07,"y":0.87,"v":-0.09},{"z":0.63,"y":0.87,"v":0.07},{"z":0.95,"y":0.95,"v":0.06},{"z":1.27,"y":0.87,"v":-0.1},{"z":1.59,"y":0.99,"v":0.07},{"z":1.91,"y":0.91,"v":-0.08},{"z":2.19,"y":0.99,"v":0.06},{"z":2.51,"y":0.87,"v":0.05},{"z":2.83,"y":1.03,"v":-0.09},{"z":3.07,"y":0.91,"v":0.08},{"z":3.31,"y":1.03,"v":-0.07},
{"z":0.11,"y":1.11,"v":0.04},{"z":0.75,"y":1.07,"v":0.09},{"z":1.11,"y":1.15,"v":-0.08},{"z":1.43,"y":1.07,"v":0.06},{"z":1.75,"y":1.19,"v":0.05},{"z":2.07,"y":1.11,"v":-0.09},{"z":2.39,"y":1.23,"v":0.07},{"z":2.67,"y":1.15,"v":0.1},{"z":2.99,"y":1.27,"v":-0.07},{"z":3.15,"y":1.19,"v":-0.16},{"z":3.39,"y":1.11,"v":0.06},
{"z":0.07,"y":1.35,"v":-0.07},{"z":0.87,"y":1.31,"v":0.07},{"z":1.23,"y":1.39,"v":-0.09},{"z":1.55,"y":1.31,"v":0.05},{"z":1.87,"y":1.43,"v":-0.08},{"z":2.19,"y":1.35,"v":0.06},{"z":2.55,"y":1.47,"v":-0.07},{"z":2.87,"y":1.39,"v":0.08},{"z":3.23,"y":1.43,"v":0.05},
{"z":0.27,"y":1.55,"v":-0.08},{"z":0.59,"y":1.59,"v":0.07},{"z":0.95,"y":1.51,"v":-0.07},{"z":1.31,"y":1.63,"v":0.06},{"z":1.63,"y":1.55,"v":-0.1},{"z":1.95,"y":1.67,"v":0.07},{"z":2.27,"y":1.55,"v":-0.08},{"z":2.63,"y":1.67,"v":0.05},{"z":2.95,"y":1.59,"v":-0.09},{"z":3.31,"y":1.67,"v":0.07},
{"z":0.11,"y":1.75,"v":0.06},{"z":0.43,"y":1.83,"v":-0.09},{"z":0.79,"y":1.75,"v":0.06},{"z":1.15,"y":1.87,"v":-0.08},{"z":1.47,"y":1.79,"v":0.07},{"z":1.79,"y":1.91,"v":0.05},{"z":2.11,"y":1.79,"v":-0.1},{"z":2.43,"y":1.91,"v":0.08},{"z":2.75,"y":1.83,"v":-0.07},{"z":3.07,"y":1.91,"v":0.06},{"z":3.39,"y":1.79,"v":-0.09},
{"z":0.23,"y":2.03,"v":-0.07},{"z":0.55,"y":2.11,"v":0.07},{"z":0.91,"y":2.03,"v":0.05},{"z":1.27,"y":2.15,"v":-0.1},{"z":1.59,"y":2.03,"v":0.06},{"z":1.95,"y":2.15,"v":-0.08},{"z":2.27,"y":2.07,"v":0.07},{"z":2.59,"y":2.19,"v":-0.07},{"z":2.91,"y":2.07,"v":0.08},{"z":3.23,"y":2.15,"v":-0.09},
{"z":0.07,"y":2.27,"v":0.06},{"z":0.39,"y":2.31,"v":-0.08},{"z":0.75,"y":2.23,"v":0.07},{"z":1.07,"y":2.31,"v":0.05},{"z":1.43,"y":2.27,"v":-0.09},{"z":1.75,"y":2.31,"v":0.07},{"z":2.11,"y":2.27,"v":0.05},{"z":2.47,"y":2.31,"v":-0.07},{"z":2.79,"y":2.23,"v":0.06},{"z":3.35,"y":2.27,"v":0.09}],
"spot3":[{"z":0.18,"y":0.98,"v":0.2},{"z":0.2,"y":0.98,"v":0.24},{"z":0.22,"y":0.98,"v":0.28},{"z":0.24,"y":0.98,"v":0.3},{"z":0.26,"y":0.98,"v":0.3},{"z":0.28,"y":0.98,"v":0.32},{"z":0.3,"y":0.98,"v":0.26},{"z":0.32,"y":0.98,"v":0.22},
{"z":0.18,"y":1.0,"v":0.46},{"z":0.2,"y":1.0,"v":0.52},{"z":0.22,"y":1.0,"v":0.5},{"z":0.24,"y":1.0,"v":0.47},{"z":0.26,"y":1.0,"v":0.44},{"z":0.28,"y":1.0,"v":0.43},{"z":0.3,"y":1.0,"v":0.38},{"z":0.32,"y":1.0,"v":0.3},
{"z":0.18,"y":1.02,"v":0.84},{"z":0.2,"y":1.02,"v":0.86},{"z":0.22,"y":1.02,"v":0.84},{"z":0.24,"y":1.02,"v":0.78},{"z":0.26,"y":1.02,"v":0.62},{"z":0.28,"y":1.02,"v":0.55},{"z":0.3,"y":1.02,"v":0.5},{"z":0.32,"y":1.02,"v":0.36},
{"z":0.18,"y":1.04,"v":0.88},{"z":0.2,"y":1.04,"v":0.96},{"z":0.22,"y":1.04,"v":0.86},{"z":0.24,"y":1.04,"v":0.8},{"z":0.26,"y":1.04,"v":0.66},{"z":0.28,"y":1.04,"v":0.6},{"z":0.3,"y":1.04,"v":0.47},{"z":0.32,"y":1.04,"v":0.4},
{"z":0.18,"y":1.06,"v":0.9},{"z":0.2,"y":1.06,"v":1.02},{"z":0.22,"y":1.06,"v":0.92},{"z":0.24,"y":1.06,"v":0.8},{"z":0.26,"y":1.06,"v":0.7},{"z":0.28,"y":1.06,"v":0.58},{"z":0.3,"y":1.06,"v":0.55},{"z":0.32,"y":1.06,"v":0.42},
{"z":0.16,"y":1.08,"v":0.83},{"z":0.18,"y":1.08,"v":0.88},{"z":0.2,"y":1.08,"v":0.9},{"z":0.22,"y":1.08,"v":0.84},{"z":0.24,"y":1.08,"v":0.82},{"z":0.26,"y":1.08,"v":0.72},{"z":0.28,"y":1.08,"v":0.6},{"z":0.3,"y":1.08,"v":0.5},{"z":0.32,"y":1.08,"v":0.46},
{"z":0.16,"y":1.1,"v":0.88},{"z":0.18,"y":1.1,"v":0.9},{"z":0.2,"y":1.1,"v":0.98},{"z":0.22,"y":1.1,"v":0.88},{"z":0.24,"y":1.1,"v":0.8},{"z":0.26,"y":1.1,"v":0.7},{"z":0.28,"y":1.1,"v":0.58},{"z":0.3,"y":1.1,"v":0.52},{"z":0.32,"y":1.1,"v":0.46},
{"z":0.16,"y":1.12,"v":0.86},{"z":0.18,"y":1.12,"v":0.94},{"z":0.2,"y":1.12,"v":0.92},{"z":0.22,"y":1.12,"v":0.9},{"z":0.24,"y":1.12,"v":0.76},{"z":0.26,"y":1.12,"v":0.66},{"z":0.28,"y":1.12,"v":0.6},{"z":0.3,"y":1.12,"v":0.5},{"z":0.32,"y":1.12,"v":0.48},
{"z":0.16,"y":1.14,"v":0.84},{"z":0.18,"y":1.14,"v":1.02},{"z":0.2,"y":1.14,"v":0.94},{"z":0.22,"y":1.14,"v":0.86},{"z":0.24,"y":1.14,"v":0.82},{"z":0.26,"y":1.14,"v":0.72},{"z":0.28,"y":1.14,"v":0.64},{"z":0.3,"y":1.14,"v":0.48},{"z":0.32,"y":1.14,"v":0.4},
{"z":0.16,"y":1.16,"v":0.88},{"z":0.18,"y":1.16,"v":0.96},{"z":0.2,"y":1.16,"v":0.9},{"z":0.22,"y":1.16,"v":0.92},{"z":0.24,"y":1.16,"v":0.78},{"z":0.26,"y":1.16,"v":0.7},{"z":0.28,"y":1.16,"v":0.62},{"z":0.3,"y":1.16,"v":0.5},{"z":0.32,"y":1.16,"v":0.38},
{"z":0.16,"y":1.18,"v":0.86},{"z":0.18,"y":1.18,"v":0.92},{"z":0.2,"y":1.18,"v":1.03},{"z":0.22,"y":1.18,"v":0.84},{"z":0.24,"y":1.18,"v":0.74},{"z":0.26,"y":1.18,"v":0.84},{"z":0.28,"y":1.18,"v":0.62},{"z":0.3,"y":1.18,"v":0.52},{"z":0.32,"y":1.18,"v":0.38},
{"z":0.16,"y":1.2,"v":0.92},{"z":0.18,"y":1.2,"v":0.96},{"z":0.2,"y":1.2,"v":0.94},{"z":0.22,"y":1.2,"v":0.88},{"z":0.24,"y":1.2,"v":0.84},{"z":0.26,"y":1.2,"v":0.7},{"z":0.28,"y":1.2,"v":0.64},{"z":0.3,"y":1.2,"v":0.48},{"z":0.32,"y":1.2,"v":0.36},
{"z":0.16,"y":1.22,"v":0.86},{"z":0.18,"y":1.22,"v":0.92},{"z":0.2,"y":1.22,"v":0.9},{"z":0.22,"y":1.22,"v":0.86},{"z":0.24,"y":1.22,"v":0.8},{"z":0.26,"y":1.22,"v":0.66},{"z":0.28,"y":1.22,"v":0.58},{"z":0.3,"y":1.22,"v":0.52},{"z":0.32,"y":1.22,"v":0.38},
{"z":0.16,"y":1.24,"v":0.82},{"z":0.18,"y":1.24,"v":0.88},{"z":0.2,"y":1.24,"v":0.86},{"z":0.22,"y":1.24,"v":0.82},{"z":0.24,"y":1.24,"v":0.72},{"z":0.26,"y":1.24,"v":0.62},{"z":0.28,"y":1.24,"v":0.56},{"z":0.3,"y":1.24,"v":0.5},{"z":0.32,"y":1.24,"v":0.34},
{"z":0.16,"y":1.26,"v":0.84},{"z":0.18,"y":1.26,"v":0.8},{"z":0.2,"y":1.26,"v":0.82},{"z":0.22,"y":1.26,"v":0.72},{"z":0.24,"y":1.26,"v":0.64},{"z":0.26,"y":1.26,"v":0.6},{"z":0.28,"y":1.26,"v":0.5},{"z":0.3,"y":1.26,"v":0.42},{"z":0.32,"y":1.26,"v":0.34},
{"z":0.16,"y":1.28,"v":0.8},{"z":0.18,"y":1.28,"v":0.84},{"z":0.2,"y":1.28,"v":0.76},{"z":0.22,"y":1.28,"v":0.7},{"z":0.24,"y":1.28,"v":0.58},{"z":0.26,"y":1.28,"v":0.52},{"z":0.28,"y":1.28,"v":0.48},{"z":0.3,"y":1.28,"v":0.38},{"z":0.32,"y":1.28,"v":0.3},
{"z":0.18,"y":1.3,"v":0.56},{"z":0.2,"y":1.3,"v":0.6},{"z":0.22,"y":1.3,"v":0.54},{"z":0.24,"y":1.3,"v":0.5},{"z":0.26,"y":1.3,"v":0.48},{"z":0.28,"y":1.3,"v":0.36},{"z":0.3,"y":1.3,"v":0.3},{"z":0.32,"y":1.3,"v":0.26},
{"z":0.18,"y":1.32,"v":0.2},{"z":0.2,"y":1.32,"v":0.26},{"z":0.22,"y":1.32,"v":0.3},{"z":0.24,"y":1.32,"v":0.24},{"z":0.26,"y":1.32,"v":0.28},{"z":0.28,"y":1.32,"v":0.22},{"z":0.3,"y":1.32,"v":0.22},{"z":0.32,"y":1.32,"v":0.18}],
"glow3":[{"z":0.25,"y":0.88,"v":0.1},{"z":0.29,"y":0.88,"v":0.07},{"z":0.33,"y":0.88,"v":0.12},{"z":0.37,"y":0.88,"v":0.09},{"z":0.41,"y":0.88,"v":0.06},{"z":0.45,"y":0.88,"v":0.08},
{"z":0.25,"y":0.94,"v":0.15},{"z":0.29,"y":0.94,"v":0.2},{"z":0.33,"y":0.94,"v":0.17},{"z":0.37,"y":0.94,"v":0.13},{"z":0.41,"y":0.94,"v":0.11},{"z":0.45,"y":0.94,"v":0.08},{"z":0.49,"y":0.94,"v":0.06},
{"z":0.33,"y":1.0,"v":0.27},{"z":0.37,"y":1.0,"v":0.24},{"z":0.41,"y":1.0,"v":0.18},{"z":0.45,"y":1.0,"v":0.16},{"z":0.49,"y":1.0,"v":0.12},{"z":0.53,"y":1.0,"v":0.1},{"z":0.57,"y":1.0,"v":0.07},{"z":0.61,"y":1.0,"v":0.04},
{"z":0.33,"y":1.06,"v":0.35},{"z":0.37,"y":1.06,"v":0.3},{"z":0.41,"y":1.06,"v":0.24},{"z":0.45,"y":1.06,"v":0.18},{"z":0.49,"y":1.06,"v":0.13},{"z":0.53,"y":1.06,"v":0.11},{"z":0.57,"y":1.06,"v":0.08},{"z":0.61,"y":1.06,"v":0.06},{"z":0.65,"y":1.06,"v":0.03},
{"z":0.33,"y":1.12,"v":0.36},{"z":0.37,"y":1.12,"v":0.28},{"z":0.41,"y":1.12,"v":0.25},{"z":0.45,"y":1.12,"v":0.2},{"z":0.49,"y":1.12,"v":0.15},{"z":0.53,"y":1.12,"v":0.12},{"z":0.57,"y":1.12,"v":0.09},{"z":0.61,"y":1.12,"v":0.07},{"z":0.65,"y":1.12,"v":0.05},{"z":0.69,"y":1.12,"v":0.03},
{"z":0.33,"y":1.18,"v":0.34},{"z":0.37,"y":1.18,"v":0.29},{"z":0.41,"y":1.18,"v":0.22},{"z":0.45,"y":1.18,"v":0.17},{"z":0.49,"y":1.18,"v":0.14},{"z":0.53,"y":1.18,"v":0.1},{"z":0.57,"y":1.18,"v":0.09},{"z":0.61,"y":1.18,"v":0.06},{"z":0.65,"y":1.18,"v":0.05},{"z":0.69,"y":1.18,"v":0.03},
{"z":0.33,"y":1.24,"v":0.3},{"z":0.37,"y":1.24,"v":0.26},{"z":0.41,"y":1.24,"v":0.2},{"z":0.45,"y":1.24,"v":0.18},{"z":0.49,"y":1.24,"v":0.13},{"z":0.53,"y":1.24,"v":0.1},{"z":0.57,"y":1.24,"v":0.07},{"z":0.61,"y":1.24,"v":0.06},{"z":0.65,"y":1.24,"v":0.03},
{"z":0.33,"y":1.3,"v":0.26},{"z":0.37,"y":1.3,"v":0.22},{"z":0.41,"y":1.3,"v":0.19},{"z":0.45,"y":1.3,"v":0.16},{"z":0.49,"y":1.3,"v":0.12},{"z":0.53,"y":1.3,"v":0.08},{"z":0.57,"y":1.3,"v":0.06},
{"z":0.25,"y":1.36,"v":0.14},{"z":0.29,"y":1.36,"v":0.16},{"z":0.33,"y":1.36,"v":0.15},{"z":0.37,"y":1.36,"v":0.12},{"z":0.41,"y":1.36,"v":0.1},{"z":0.45,"y":1.36,"v":0.08},{"z":0.49,"y":1.36,"v":0.08},
{"z":0.25,"y":1.42,"v":0.07},{"z":0.29,"y":1.42,"v":0.1},{"z":0.33,"y":1.42,"v":0.08},{"z":0.37,"y":1.42,"v":0.09},{"z":0.41,"y":1.42,"v":0.06},{"z":0.45,"y":1.42,"v":0.07}]},
"resolve":{"scale":{"color":"independent"}},
"hconcat":[
{"width":793,"height":678,"title":"Noise: 0.1%","resolve":{"axis":{"x":"independent","y":"independent"}},"layer":[
{"data":{"name":"bg1"},"mark":{"type":"rect"},"encoding":{"x":{"field":"z0","type":"quantitative","scale":{"domain":[0.01,3.43]},"title":"z(cm)","axis":{"values":[0.5,1,1.5,2,2.5,3],"tickSize":-8,"labelPadding":21,"titlePadding":22,"zindex":1}},"x2":{"field":"z1"},"y":{"field":"y0","type":"quantitative","scale":{"domain":[0.01,2.33],"reverse":true},"title":"y(cm)","axis":{"values":[0.5,1,1.5,2],"tickSize":-8,"labelPadding":23,"titlePadding":10,"zindex":1}},"y2":{"field":"y1"},"color":{"field":"v","type":"quantitative","scale":{"domain":[-0.0005,0.995],"range":["#3e26a8","#4332cb","#4741e5","#4852f4","#4563fd","#3875fe","#2d87f7","#2796eb","#20a5e3","#12b1d6","#02bac3","#24c1ae","#37c897","#57cc7a","#81cc59","#abc739","#d1bf27","#efba36","#fec338","#f9d62d","#f5e924","#f9fb15"]},"legend":{"title":null,"orient":"none","legendX":816,"legendY":-1,"gradientLength":681,"gradientThickness":44,"gradientStrokeColor":"#555555","gradientStrokeWidth":1,"values":[0,0.2,0.4,0.6,0.8],"format":".1~f","labelOffset":12}}}},
{"data":{"name":"glow"},"mark":{"type":"rect","clip":true},"encoding":{"x":{"field":"z","type":"quantitative","bin":{"step":0.04,"extent":[0.03,0.95],"nice":false},"axis":null,"scale":{"domain":[0.01,3.43]}},"y":{"field":"y","type":"quantitative","bin":{"step":0.06,"extent":[0.01,2.41],"nice":false},"axis":null,"scale":{"domain":[0.01,2.33],"reverse":true}},"color":{"field":"v","type":"quantitative","legend":null}}},
{"data":{"name":"spot"},"mark":{"type":"rect","clip":true},"encoding":{"x":{"field":"z","type":"quantitative","bin":{"step":0.02,"extent":[0.01,0.71],"nice":false},"title":null,"scale":{"domain":[0.01,3.43]},"axis":{"orient":"top","values":[0.5,1,1.5,2,2.5,3],"labels":false,"tickSize":-8,"zindex":1}},"y":{"field":"y","type":"quantitative","bin":{"step":0.02,"extent":[0.01,2.41],"nice":false},"title":null,"scale":{"domain":[0.01,2.33],"reverse":true},"axis":{"orient":"right","values":[0.5,1,1.5,2],"labels":false,"tickSize":-8,"zindex":1}},"color":{"field":"v","type":"quantitative","legend":null}}}]},
{"width":793,"height":678,"title":"Noise: 1%","resolve":{"axis":{"x":"independent","y":"independent"}},"layer":[
{"data":{"name":"bg2"},"mark":{"type":"rect"},"encoding":{"x":{"field":"z0","type":"quantitative","scale":{"domain":[0.01,3.43]},"title":"z(cm)","axis":{"values":[0.5,1,1.5,2,2.5,3],"tickSize":-8,"labelPadding":21,"titlePadding":22,"zindex":1}},"x2":{"field":"z1"},"y":{"field":"y0","type":"quantitative","scale":{"domain":[0.01,2.33],"reverse":true},"title":"y(cm)","axis":{"values":[0.5,1,1.5,2],"tickSize":-8,"labelPadding":23,"titlePadding":10,"zindex":1}},"y2":{"field":"y1"},"color":{"field":"v","type":"quantitative","scale":{"domain":[-0.035,0.998],"range":["#3e26a8","#4332cb","#4741e5","#4852f4","#4563fd","#3875fe","#2d87f7","#2796eb","#20a5e3","#12b1d6","#02bac3","#24c1ae","#37c897","#57cc7a","#81cc59","#abc739","#d1bf27","#efba36","#fec338","#f9d62d","#f5e924","#f9fb15"]},"legend":{"title":null,"orient":"none","legendX":816,"legendY":-1,"gradientLength":681,"gradientThickness":44,"gradientStrokeColor":"#555555","gradientStrokeWidth":1,"values":[0,0.2,0.4,0.6,0.8],"format":".1~f","labelOffset":12}}}},
{"data":{"name":"n2"},"mark":{"type":"rect","clip":true},"encoding":{"x":{"field":"z","type":"quantitative","bin":{"step":0.3,"extent":[0.01,3.61],"nice":false},"axis":null,"scale":{"domain":[0.01,3.43]}},"y":{"field":"y","type":"quantitative","bin":{"step":0.3,"extent":[0.01,2.41],"nice":false},"axis":null,"scale":{"domain":[0.01,2.33],"reverse":true}},"color":{"field":"v","type":"quantitative","legend":null}}},
{"data":{"name":"glow"},"mark":{"type":"rect","clip":true},"encoding":{"x":{"field":"z","type":"quantitative","bin":{"step":0.04,"extent":[0.03,0.95],"nice":false},"axis":null,"scale":{"domain":[0.01,3.43]}},"y":{"field":"y","type":"quantitative","bin":{"step":0.06,"extent":[0.01,2.41],"nice":false},"axis":null,"scale":{"domain":[0.01,2.33],"reverse":true}},"color":{"field":"v","type":"quantitative","legend":null}}},
{"data":{"name":"spot"},"mark":{"type":"rect","clip":true},"encoding":{"x":{"field":"z","type":"quantitative","bin":{"step":0.02,"extent":[0.01,0.71],"nice":false},"title":null,"scale":{"domain":[0.01,3.43]},"axis":{"orient":"top","values":[0.5,1,1.5,2,2.5,3],"labels":false,"tickSize":-8,"zindex":1}},"y":{"field":"y","type":"quantitative","bin":{"step":0.02,"extent":[0.01,2.41],"nice":false},"title":null,"scale":{"domain":[0.01,2.33],"reverse":true},"axis":{"orient":"right","values":[0.5,1,1.5,2],"labels":false,"tickSize":-8,"zindex":1}},"color":{"field":"v","type":"quantitative","legend":null}}}]},
{"width":793,"height":678,"title":"Noise: 5%","resolve":{"axis":{"x":"independent","y":"independent"}},"layer":[
{"data":{"name":"bg3"},"mark":{"type":"rect"},"encoding":{"x":{"field":"z0","type":"quantitative","scale":{"domain":[0.01,3.43]},"title":"z(cm)","axis":{"values":[0.5,1,1.5,2,2.5,3],"tickSize":-8,"labelPadding":21,"titlePadding":22,"zindex":1}},"x2":{"field":"z1"},"y":{"field":"y0","type":"quantitative","scale":{"domain":[0.01,2.33],"reverse":true},"title":"y(cm)","axis":{"values":[0.5,1,1.5,2],"tickSize":-8,"labelPadding":23,"titlePadding":10,"zindex":1}},"y2":{"field":"y1"},"color":{"field":"v","type":"quantitative","scale":{"domain":[-0.214,1.046],"range":["#3e26a8","#4332cb","#4741e5","#4852f4","#4563fd","#3875fe","#2d87f7","#2796eb","#20a5e3","#12b1d6","#02bac3","#24c1ae","#37c897","#57cc7a","#81cc59","#abc739","#d1bf27","#efba36","#fec338","#f9d62d","#f5e924","#f9fb15"]},"legend":{"title":null,"orient":"none","legendX":816,"legendY":-1,"gradientLength":681,"gradientThickness":44,"gradientStrokeColor":"#555555","gradientStrokeWidth":1,"values":[-0.2,0,0.2,0.4,0.6,0.8,1],"labelExpr":"datum.value < 0 ? '-0.2' : datum.value == 0 ? '0' : datum.value == 1 ? '1' : format(datum.value, '.1f')","labelOffset":12}}}},
{"data":{"name":"n3"},"mark":{"type":"rect","clip":true},"encoding":{"x":{"field":"z","type":"quantitative","bin":{"step":0.2,"extent":[0.01,3.61],"nice":false},"axis":null,"scale":{"domain":[0.01,3.43]}},"y":{"field":"y","type":"quantitative","bin":{"step":0.2,"extent":[0.01,2.41],"nice":false},"axis":null,"scale":{"domain":[0.01,2.33],"reverse":true}},"color":{"field":"v","type":"quantitative","legend":null}}},
{"data":{"name":"s3"},"mark":{"type":"rect","clip":true},"encoding":{"x":{"field":"z","type":"quantitative","bin":{"step":0.04,"extent":[0.01,3.45],"nice":false},"axis":null,"scale":{"domain":[0.01,3.43]}},"y":{"field":"y","type":"quantitative","bin":{"step":0.04,"extent":[0.01,2.41],"nice":false},"axis":null,"scale":{"domain":[0.01,2.33],"reverse":true}},"color":{"field":"v","type":"quantitative","legend":null}}},
{"data":{"name":"glow3"},"mark":{"type":"rect","clip":true},"encoding":{"x":{"field":"z","type":"quantitative","bin":{"step":0.04,"extent":[0.03,0.95],"nice":false},"axis":null,"scale":{"domain":[0.01,3.43]}},"y":{"field":"y","type":"quantitative","bin":{"step":0.06,"extent":[0.01,2.41],"nice":false},"axis":null,"scale":{"domain":[0.01,2.33],"reverse":true}},"color":{"field":"v","type":"quantitative","legend":null}}},
{"data":{"name":"spot3"},"mark":{"type":"rect","clip":true},"encoding":{"x":{"field":"z","type":"quantitative","bin":{"step":0.02,"extent":[0.01,0.71],"nice":false},"title":null,"scale":{"domain":[0.01,3.43]},"axis":{"orient":"top","values":[0.5,1,1.5,2,2.5,3],"labels":false,"tickSize":-8,"zindex":1}},"y":{"field":"y","type":"quantitative","bin":{"step":0.02,"extent":[0.01,2.41],"nice":false},"title":null,"scale":{"domain":[0.01,2.33],"reverse":true},"axis":{"orient":"right","values":[0.5,1,1.5,2],"labels":false,"tickSize":-8,"zindex":1}},"color":{"field":"v","type":"quantitative","legend":null}}}]}
]}
